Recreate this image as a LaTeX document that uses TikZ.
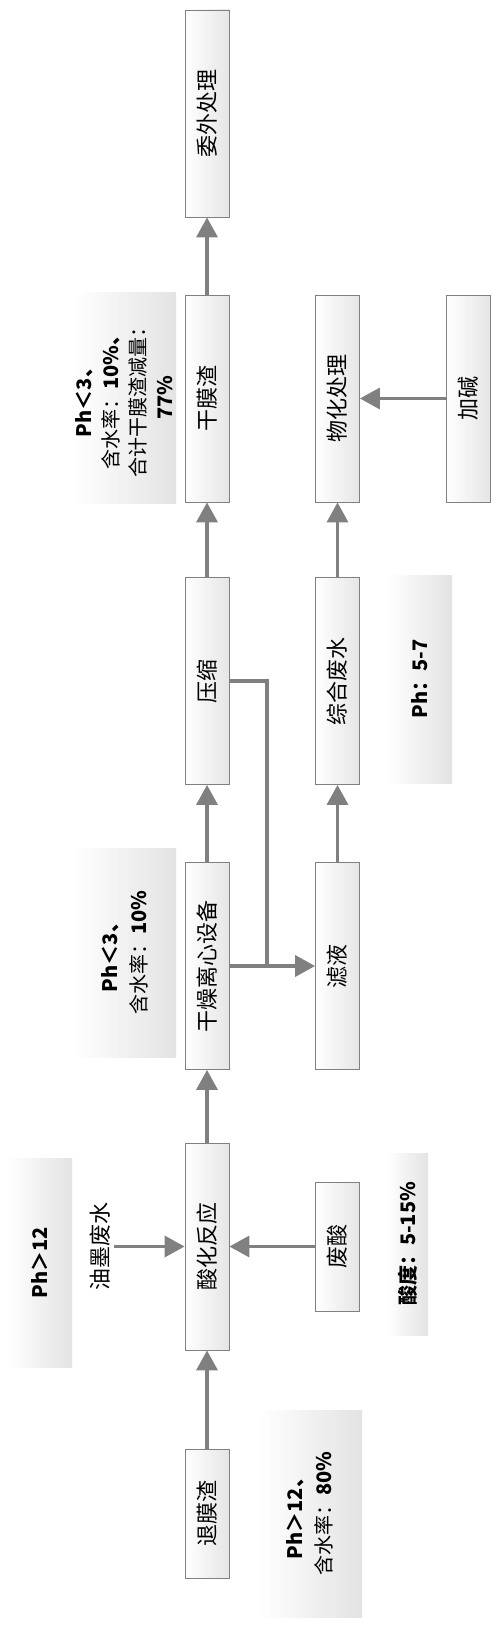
\documentclass[tikz,border=0pt]{standalone}
\usepackage{fontspec}
\setmainfont{Noto Sans CJK SC}
\usetikzlibrary{arrows.meta}
\definecolor{flowgray}{RGB}{128,128,128}
\tikzset{
  procbox/.style ={draw=flowgray, line width=0.8pt, rotate=90,
                   minimum width=207pt, minimum height=44pt, inner sep=0pt,
                   left color=white, right color=black!10,
                   font=\fontsize{22}{24}\selectfont},
  shortbox/.style={procbox, minimum width=129pt},
  notebox/.style ={rotate=90, inner sep=0pt, align=center,
                   left color=white, right color=black!11,
                   font=\fontsize{20}{29}\selectfont},
  freetxt/.style ={rotate=90, font=\fontsize{22}{24}\selectfont},
  flow/.style    ={-{Triangle[length=20pt, width=21pt]}, color=flowgray,
                   line width=3.5pt},
  feed/.style    ={color=flowgray, line width=3.5pt},
}
\begin{document}
\begin{tikzpicture}[x=1pt, y=-1pt]
  \useasboundingbox (0,0) rectangle (500,1627);
  % process boxes
  \node[procbox] (wwcl) at (207,113.5) {委外处理};
  \node[procbox] (gmz) at (207,398.5) {干膜渣};
  \node[procbox] (whcl) at (337.5,398.5) {物化处理};
  \node[procbox] (jj) at (468,398.5) {加碱};
  \node[procbox] (ys) at (207,681) {压缩};
  \node[procbox] (zhfs) at (337.5,681) {综合废水};
  \node[procbox] (gzlx) at (207,966) {干燥离心设备};
  \node[procbox] (ly) at (337.5,966) {滤液};
  \node[procbox] (shfy) at (207,1246.5) {酸化反应};
  \node[shortbox] (fs) at (337.5,1246.5) {废酸};
  \node[shortbox] (tmz) at (207,1513.5) {退膜渣};
  \node[freetxt] (ymfs) at (100,1246.5) {油墨废水};
  % notes
  \node[notebox, minimum width=207pt, minimum height=104pt] (n1) at (310,1513.5)
    {{\bfseries Ph＞12、}\\含水率：{\bfseries 80\%}};
  \node[notebox, minimum width=209pt, minimum height=64pt] (n2) at (40,1262.5)
    {\bfseries Ph＞12};
  \node[notebox, minimum width=182pt, minimum height=41pt] (n3) at (407.5,1244)
    {\bfseries 酸度：5-15\%};
  \node[notebox, minimum width=209pt, minimum height=103pt] (n4) at (124.5,952.5)
    {{\bfseries Ph＜3、}\\含水率：{\bfseries 10\%}};
  \node[notebox, minimum width=208pt, minimum height=65pt] (n5) at (419.5,679)
    {\bfseries Ph：5-7};
  \node[notebox, minimum width=211pt, minimum height=103pt,
        font=\fontsize{20}{27}\selectfont] (n6) at (124.5,397.5)
    {{\bfseries Ph＜3、}\\含水率：{\bfseries 10\%、}\\合计干膜渣减量：\\{\bfseries 77\%}};
  % flow
  \draw[flow] (tmz) -- (shfy);
  \draw[flow] (ymfs) -- (shfy);
  \draw[flow] (fs) -- (shfy);
  \draw[flow] (shfy) -- (gzlx);
  \draw[flow] (gzlx) -- (ys);
  \draw[flow] (ys) -- (gmz);
  \draw[flow] (gmz) -- (wwcl);
  \draw[flow] (gzlx) -- (ly);
  \coordinate (mrg) at (267,966);
  \draw[feed] (ys.south) -| (mrg);
  \draw[flow] (ly) -- (zhfs);
  \draw[flow] (zhfs) -- (whcl);
  \draw[flow] (jj) -- (whcl);
\end{tikzpicture}
\end{document}
